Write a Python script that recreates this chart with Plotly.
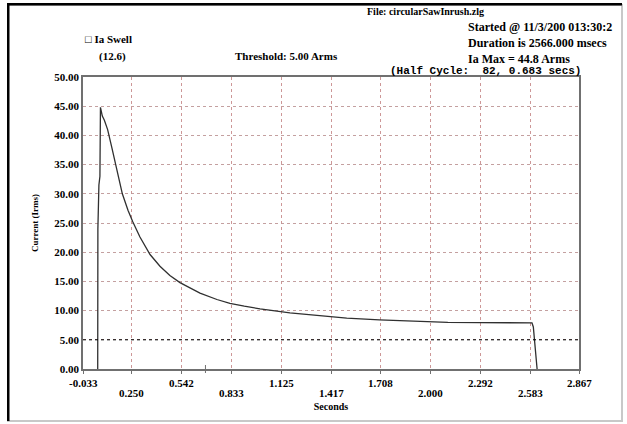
import plotly.graph_objects as go

# Data
seconds = [0.053, 0.054, 0.060, 0.066, 0.069, 0.074, 0.080, 0.092, 0.111, 0.135, 0.158, 0.197,
           0.230, 0.258, 0.300, 0.359, 0.417, 0.475, 0.534, 0.600, 0.651, 0.750, 0.826, 0.910,
           1.002, 1.177, 1.350, 1.509, 1.700, 1.898, 2.100, 2.288, 2.592, 2.600, 2.622]
current = [0.0, 24.0, 31.5, 33.0, 44.8, 44.0, 43.3, 42.6, 41.0, 38.0, 34.8, 30.0,
           27.2, 25.2, 22.6, 19.6, 17.6, 16.0, 14.8, 13.8, 13.0, 11.9, 11.25, 10.75,
           10.3, 9.6, 9.1, 8.7, 8.4, 8.15, 8.0, 7.95, 7.9, 7.2, 0.0]
threshold = 5.0
cursor_time = 0.683

x_ticks = [-0.033, 0.250, 0.542, 0.833, 1.125, 1.417, 1.708, 2.000, 2.292, 2.583, 2.867]
x_ticktext = ["-0.033", "0.250", "0.542", "0.833", "1.125", "1.417",
              "1.708", "2.000", "2.292", "2.583", "2.867"]
y_ticks = [0, 5, 10, 15, 20, 25, 30, 35, 40, 45, 50]
y_ticktext = ["%.2f" % v for v in y_ticks]

W, H = 627, 424
L, R, T, B = 83, 579, 77, 369

def px(x):
    return (x - L) / (R - L)

def py(y):
    return (B - y) / (B - T)

serif = "Liberation Serif"
tfont = dict(family=serif, size=10, color="black")

fig = go.Figure()
fig.add_trace(go.Scatter(x=seconds, y=current, mode="lines",
                         line=dict(color="#303030", width=1.3), showlegend=False))

fig.update_layout(
    width=W, height=H,
    margin=dict(l=L, r=W - R, t=T, b=H - B),
    paper_bgcolor="white", plot_bgcolor="white",
    font=dict(family=serif, size=10, color="black"),
    xaxis=dict(range=[-0.033, 2.867], tickvals=x_ticks, showticklabels=False,
               showgrid=True, gridcolor="rgba(200,140,140,0.9)", griddash="dot", gridwidth=1,
               zeroline=False, showline=True, linecolor="#707070", linewidth=1.5, mirror=True,
               ticks="outside", ticklen=3, tickcolor="#707070",
               title=dict(text="<b>Seconds</b>", font=dict(family=serif, size=10), standoff=30)),
    yaxis=dict(range=[0, 50], tickvals=y_ticks, ticktext=["<b>%s</b>" % t for t in y_ticktext],
               showgrid=True, gridcolor="rgba(190,150,150,0.9)", griddash="dot", gridwidth=1,
               zeroline=False, showline=True, linecolor="#707070", linewidth=1.5, mirror=True,
               ticks="", tickfont=dict(family=serif, size=11, color="black"),
               title=dict(text="<b>Current (Irms)</b>", font=dict(family=serif, size=9), standoff=14)),
)

# x tick labels in two staggered rows
for i, (v, t) in enumerate(zip(x_ticks, x_ticktext)):
    fig.add_annotation(text="<b>%s</b>" % t, xref="x", yref="paper", x=v,
                       y=py(383 if i % 2 == 0 else 393), xanchor="center", yanchor="middle",
                       showarrow=False, font=dict(family=serif, size=11, color="black"))

# threshold line
fig.add_shape(type="line", xref="paper", yref="y", x0=0, x1=1, y0=threshold, y1=threshold,
              line=dict(color="black", width=1, dash="dot"))
# cursor marker
fig.add_shape(type="line", xref="x", yref="paper", x0=cursor_time, x1=cursor_time,
              y0=py(373), y1=py(365), line=dict(color="#707070", width=1))

# frame
fig.add_shape(type="rect", xref="paper", yref="paper", x0=px(8), x1=px(622), y0=py(421), y1=py(5),
              line=dict(color="#c8c8c8", width=2), fillcolor="rgba(0,0,0,0)", layer="below")
fig.add_shape(type="rect", xref="paper", yref="paper", x0=px(7), x1=px(9.5), y0=py(421), y1=py(3),
              line=dict(width=0), fillcolor="black")
fig.add_shape(type="rect", xref="paper", yref="paper", x0=px(7), x1=px(622), y0=py(5.5), y1=py(3),
              line=dict(width=0), fillcolor="black")

def note(text, x, y, anchor="left", font=tfont):
    fig.add_annotation(text=text, xref="paper", yref="paper", x=px(x), y=py(y),
                       xanchor=anchor, yanchor="middle", showarrow=False, font=font)

big = dict(family=serif, size=12, color="black")
note("<b>File: circularSawInrush.zlg</b>", 425, 11, "center", dict(family=serif, size=10, color="black"))
note("<b>Started @ 11/3/200 013:30:2</b>", 466, 27, "left", big)
note("<b>Duration is 2566.000 msecs</b>", 466, 43, "left", big)
note("<b>Ia Max = 44.8 Arms</b>", 466, 59, "left", big)
note("<b>□ Ia Swell</b>", 83, 39, "left", dict(family=serif, size=11, color="black"))
note("<b>(12.6)</b>", 97, 56, "left", dict(family=serif, size=11, color="black"))
note("<b>Threshold: 5.00 Arms</b>", 286, 56, "center", dict(family=serif, size=11, color="black"))
note("<b>(Half Cycle:  82, 0.683 secs)</b>", 583, 71, "right",
     dict(family="Liberation Mono", size=11, color="black"))

fig.write_html("out.html", config={"displayModeBar": False},
               post_script="document.body.style.margin='0';")
